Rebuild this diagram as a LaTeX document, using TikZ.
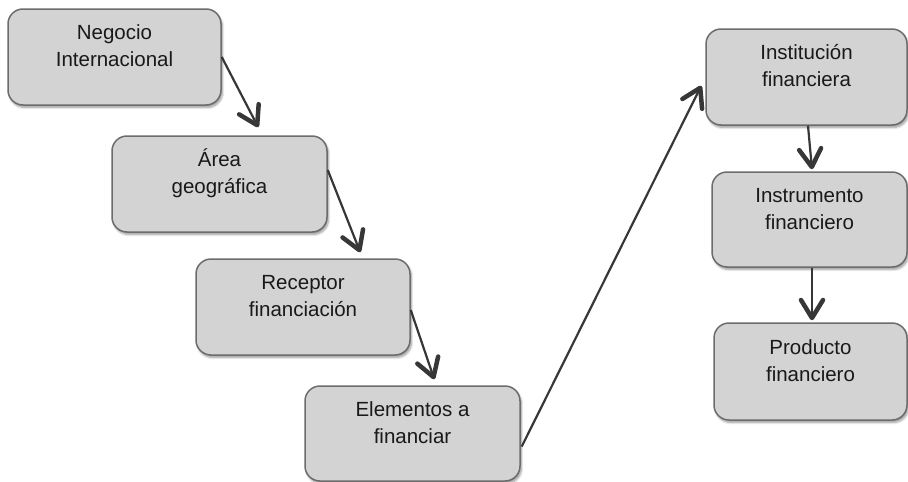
\documentclass[tikz,border=0pt]{standalone}
\usepackage{fontspec}
\setmainfont{Liberation Sans}
\usetikzlibrary{arrows.meta,shadows,shadows.blur}
\definecolor{boxfill}{RGB}{211,211,211}
\definecolor{boxdraw}{RGB}{108,108,108}
\definecolor{arrcol}{RGB}{55,55,55}
\definecolor{txtcol}{RGB}{25,25,25}
\newcommand{\boxtext}[2]{\raisebox{9pt}[\height][\depth]{\begin{tabular}{@{}c@{}}#1\\#2\end{tabular}}}
\begin{document}
\begin{tikzpicture}[x=1pt,y=-1pt,
  stepbox/.style={draw=boxdraw, line width=1.5pt, fill=boxfill, rounded corners=15pt,
    inner sep=0pt, text=txtcol, font=\fontsize{20.5}{27}\selectfont,
    blur shadow={shadow xshift=1.5pt, shadow yshift=-2.5pt, shadow blur steps=6, shadow opacity=40}},
  flow/.style={draw=arrcol, line width=2.2pt,
    -{Straight Barb[length=18pt, width=22pt, line width=4.5pt, round]}}]
\useasboundingbox (0,0) rectangle (908,482);

\node[stepbox, minimum width=213pt, minimum height=96pt] (n1) at (114.5,57) {\boxtext{Negocio}{Internacional}};
\node[stepbox, minimum width=215pt, minimum height=96pt] (n2) at (219.5,184) {\boxtext{Área}{geográfica}};
\node[stepbox, minimum width=214pt, minimum height=96pt] (n3) at (303,307) {\boxtext{Receptor}{financiación}};
\node[stepbox, minimum width=215pt, minimum height=95pt] (n4) at (412.5,433.5) {\boxtext{Elementos a}{financiar}};
\node[stepbox, minimum width=201pt, minimum height=96pt] (n5) at (806.5,77) {\boxtext{Institución}{financiera}};
\node[stepbox, minimum width=195pt, minimum height=95pt] (n6) at (809.5,219.5) {\boxtext{Instrumento}{financiero}};
\node[stepbox, minimum width=193pt, minimum height=97pt] (n7) at (810.5,371.5) {\boxtext{Producto}{financiero}};

\draw[flow] (n1.east) -- ([shift={(147,-8)}]n2.north west);
\draw[flow] ([shift={(0,-14)}]n2.east) -- ([shift={(165,-6)}]n3.north west);
\draw[flow] ([shift={(0,3)}]n3.east) -- ([shift={(130,-6)}]n4.north west);
\draw[flow] ([shift={(1,13)}]n4.east) -- ([shift={(-4,-40)}]n5.south west);
\draw[flow] ([shift={(1.5,0)}]n5.south) -- ([shift={(2.5,-2)}]n6.north);
\draw[flow] ([shift={(2.5,0)}]n6.south) -- ([shift={(1.5,-2)}]n7.north);
\end{tikzpicture}
\end{document}
